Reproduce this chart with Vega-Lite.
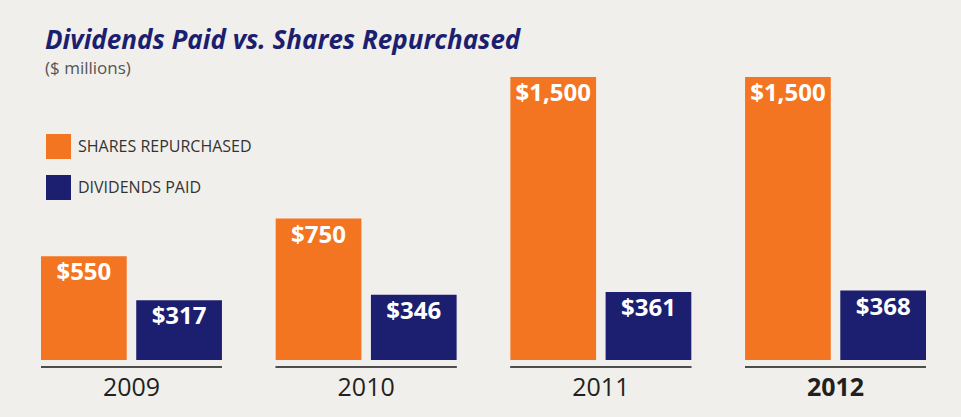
{
  "$schema": "https://vega.github.io/schema/vega-lite/v6.json",
  "autosize": "none",
  "width": 885,
  "height": 290,
  "padding": {"left": 41, "top": 77, "right": 35, "bottom": 50},
  "background": "#f0efeb",
  "config": {"view": {"stroke": null}, "font": "Open Sans"},
  "title": {
    "text": "Dividends Paid vs. Shares Repurchased",
    "subtitle": "($ millions)",
    "anchor": "start",
    "frame": "group",
    "dx": 4,
    "offset": 0,
    "font": "Open Sans",
    "fontSize": 26,
    "fontStyle": "italic",
    "fontWeight": "bold",
    "color": "#1c1f6f",
    "subtitleFont": "Open Sans",
    "subtitleFontSize": 17,
    "subtitleColor": "#555555",
    "subtitlePadding": 7
  },
  "data": {
    "values": [
      {"year": "2009", "series": "SHARES REPURCHASED", "value": 550},
      {"year": "2009", "series": "DIVIDENDS PAID", "value": 317},
      {"year": "2010", "series": "SHARES REPURCHASED", "value": 750},
      {"year": "2010", "series": "DIVIDENDS PAID", "value": 346},
      {"year": "2011", "series": "SHARES REPURCHASED", "value": 1500},
      {"year": "2011", "series": "DIVIDENDS PAID", "value": 361},
      {"year": "2012", "series": "SHARES REPURCHASED", "value": 1500},
      {"year": "2012", "series": "DIVIDENDS PAID", "value": 368}
    ]
  },
  "encoding": {
    "x": {
      "field": "year",
      "type": "nominal",
      "scale": {"paddingInner": 0.229, "paddingOuter": 0},
      "axis": {
        "title": null,
        "domain": false,
        "ticks": false,
        "labelAngle": 0,
        "labelPadding": 8,
        "labelFont": "Open Sans",
        "labelFontSize": 25,
        "labelColor": "#231f20",
        "labelFontWeight": {"condition": {"test": "datum.value === '2012'", "value": "bold"}, "value": "normal"}
      }
    }
  },
  "layer": [
    {
      "mark": {"type": "bar"},
      "encoding": {
        "xOffset": {"field": "series", "type": "nominal", "sort": ["SHARES REPURCHASED", "DIVIDENDS PAID"], "scale": {"paddingInner": 0.1}},
        "y": {"field": "value", "type": "quantitative", "scale": {"domain": [-37, 1500], "nice": false, "zero": false}, "axis": null},
        "y2": {"datum": 0},
        "color": {
          "field": "series",
          "type": "nominal",
          "scale": {"domain": ["SHARES REPURCHASED", "DIVIDENDS PAID"], "range": ["#f47521", "#1c1f6f"]},
          "legend": {
            "title": null,
            "orient": "none",
            "legendX": 5,
            "legendY": 57,
            "symbolType": "square",
            "symbolSize": 625,
            "symbolStrokeWidth": 0,
            "symbolOpacity": 1,
            "rowPadding": 16,
            "labelOffset": 7,
            "labelLimit": 0,
            "labelFont": "Open Sans",
            "labelFontSize": 16,
            "labelColor": "#333333"
          }
        }
      }
    },
    {
      "mark": {"type": "text", "baseline": "top", "dy": 5, "color": "white", "fontWeight": "bold", "fontSize": 24, "font": "Open Sans"},
      "encoding": {
        "xOffset": {"field": "series", "type": "nominal", "sort": ["SHARES REPURCHASED", "DIVIDENDS PAID"]},
        "y": {"field": "value", "type": "quantitative"},
        "text": {"field": "value", "type": "quantitative", "format": "$,.0f"}
      }
    },
    {
      "mark": {"type": "rule", "color": "#4d4d4d", "strokeWidth": 2},
      "encoding": {
        "x": {"field": "year", "type": "nominal", "bandPosition": 0},
        "x2": {"field": "year", "bandPosition": 1},
        "y": {"datum": -37}
      }
    }
  ]
}
